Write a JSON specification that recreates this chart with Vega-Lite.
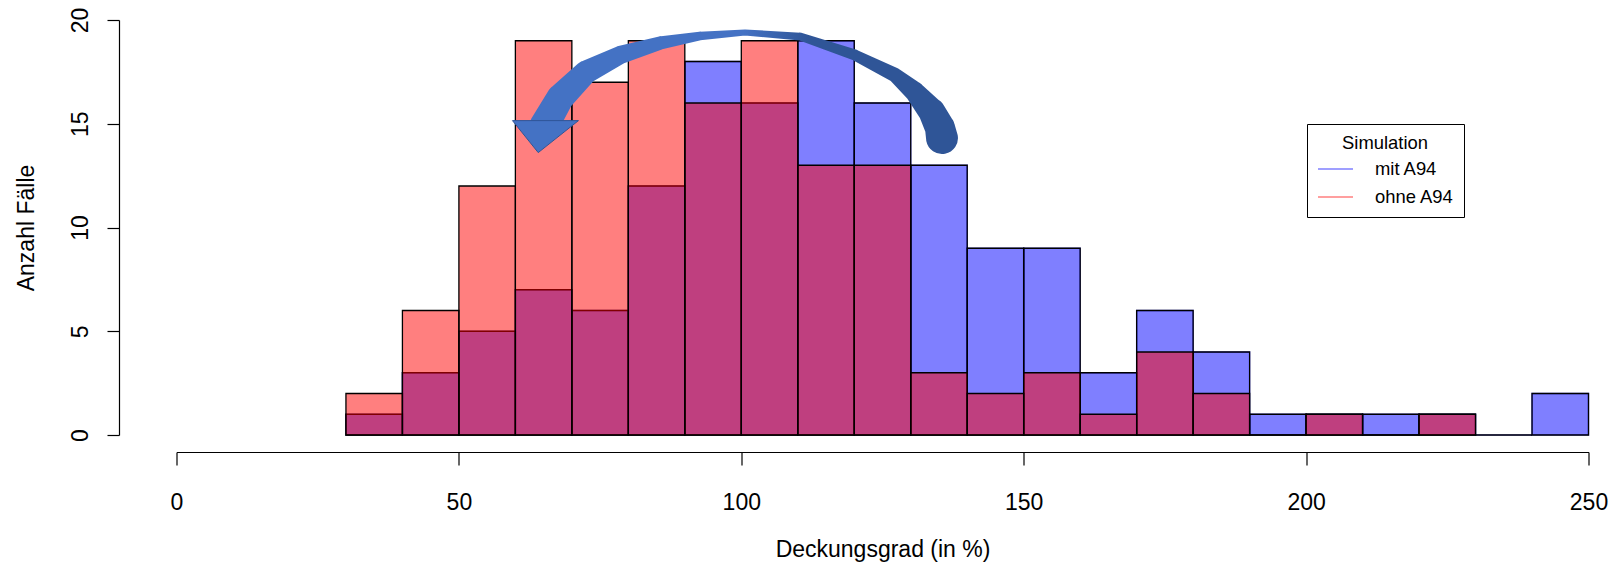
{
  "$schema": "https://vega.github.io/schema/vega-lite/v6.json",
  "autosize": {"type": "none"},
  "padding": {"left": 176.5, "top": 20, "right": 33.5, "bottom": 130},
  "width": 1412,
  "height": 415,
  "background": "white",
  "config": {
    "view": {"stroke": null},
    "font": "Liberation Sans",
    "axis": {"grid": false, "domainColor": "black", "tickColor": "black", "labelColor": "black", "titleColor": "black", "titleFontWeight": "normal", "domainWidth": 1.2, "tickWidth": 1.2}
  },
  "datasets": {
    "hist": [
      {"sim": "mit A94", "von": 30, "bis": 40, "anzahl": 1},
      {"sim": "mit A94", "von": 40, "bis": 50, "anzahl": 3},
      {"sim": "mit A94", "von": 50, "bis": 60, "anzahl": 5},
      {"sim": "mit A94", "von": 60, "bis": 70, "anzahl": 7},
      {"sim": "mit A94", "von": 70, "bis": 80, "anzahl": 6},
      {"sim": "mit A94", "von": 80, "bis": 90, "anzahl": 12},
      {"sim": "mit A94", "von": 90, "bis": 100, "anzahl": 18},
      {"sim": "mit A94", "von": 100, "bis": 110, "anzahl": 16},
      {"sim": "mit A94", "von": 110, "bis": 120, "anzahl": 19},
      {"sim": "mit A94", "von": 120, "bis": 130, "anzahl": 16},
      {"sim": "mit A94", "von": 130, "bis": 140, "anzahl": 13},
      {"sim": "mit A94", "von": 140, "bis": 150, "anzahl": 9},
      {"sim": "mit A94", "von": 150, "bis": 160, "anzahl": 9},
      {"sim": "mit A94", "von": 160, "bis": 170, "anzahl": 3},
      {"sim": "mit A94", "von": 170, "bis": 180, "anzahl": 6},
      {"sim": "mit A94", "von": 180, "bis": 190, "anzahl": 4},
      {"sim": "mit A94", "von": 190, "bis": 200, "anzahl": 1},
      {"sim": "mit A94", "von": 200, "bis": 210, "anzahl": 1},
      {"sim": "mit A94", "von": 210, "bis": 220, "anzahl": 1},
      {"sim": "mit A94", "von": 220, "bis": 230, "anzahl": 1},
      {"sim": "mit A94", "von": 230, "bis": 240, "anzahl": 0},
      {"sim": "mit A94", "von": 240, "bis": 250, "anzahl": 2},
      {"sim": "ohne A94", "von": 30, "bis": 40, "anzahl": 2},
      {"sim": "ohne A94", "von": 40, "bis": 50, "anzahl": 6},
      {"sim": "ohne A94", "von": 50, "bis": 60, "anzahl": 12},
      {"sim": "ohne A94", "von": 60, "bis": 70, "anzahl": 19},
      {"sim": "ohne A94", "von": 70, "bis": 80, "anzahl": 17},
      {"sim": "ohne A94", "von": 80, "bis": 90, "anzahl": 19},
      {"sim": "ohne A94", "von": 90, "bis": 100, "anzahl": 16},
      {"sim": "ohne A94", "von": 100, "bis": 110, "anzahl": 19},
      {"sim": "ohne A94", "von": 110, "bis": 120, "anzahl": 13},
      {"sim": "ohne A94", "von": 120, "bis": 130, "anzahl": 13},
      {"sim": "ohne A94", "von": 130, "bis": 140, "anzahl": 3},
      {"sim": "ohne A94", "von": 140, "bis": 150, "anzahl": 2},
      {"sim": "ohne A94", "von": 150, "bis": 160, "anzahl": 3},
      {"sim": "ohne A94", "von": 160, "bis": 170, "anzahl": 1},
      {"sim": "ohne A94", "von": 170, "bis": 180, "anzahl": 4},
      {"sim": "ohne A94", "von": 180, "bis": 190, "anzahl": 2},
      {"sim": "ohne A94", "von": 190, "bis": 200, "anzahl": 0},
      {"sim": "ohne A94", "von": 200, "bis": 210, "anzahl": 1},
      {"sim": "ohne A94", "von": 210, "bis": 220, "anzahl": 0},
      {"sim": "ohne A94", "von": 220, "bis": 230, "anzahl": 1}
    ],
    "bogen": [
      {"i": 1, "x": 65.10, "y": 14.90, "dicke": 1.42},
      {"i": 2, "x": 67.90, "y": 16.24, "dicke": 1.32},
      {"i": 3, "x": 72.51, "y": 17.49, "dicke": 1.12},
      {"i": 4, "x": 78.52, "y": 18.31, "dicke": 0.88},
      {"i": 5, "x": 85.60, "y": 18.89, "dicke": 0.64},
      {"i": 6, "x": 92.69, "y": 19.23, "dicke": 0.42},
      {"i": 7, "x": 100.66, "y": 19.40, "dicke": 0.29},
      {"i": 8, "x": 110.40, "y": 19.20, "dicke": 0.38},
      {"i": 9, "x": 120.13, "y": 18.31, "dicke": 0.53},
      {"i": 10, "x": 127.21, "y": 17.35, "dicke": 0.70},
      {"i": 11, "x": 130.75, "y": 16.53, "dicke": 0.98},
      {"i": 12, "x": 133.76, "y": 15.57, "dicke": 1.30},
      {"i": 13, "x": 135.18, "y": 14.80, "dicke": 1.45},
      {"i": 14, "x": 135.53, "y": 14.31, "dicke": 1.54}
    ],
    "spitze": [
      {"x": 65.33, "y": 14.38}
    ]
  },
  "layer": [
    {
      "data": {"name": "hist"},
      "transform": [{"filter": "datum.sim === 'mit A94'"}],
      "mark": {"type": "bar", "opacity": 1, "strokeWidth": 1.5},
      "encoding": {
        "x": {"field": "von", "type": "quantitative", "title": "Deckungsgrad (in %)",
              "scale": {"domain": [0, 250], "nice": false, "zero": false},
              "axis": {"values": [0, 50, 100, 150, 200, 250], "offset": 17, "tickSize": 13, "labelFontSize": 23, "labelPadding": 26, "labelBaseline": "top", "labelFlush": false, "labelOverlap": false, "titleFontSize": 23, "titleBaseline": "alphabetic", "titleY": 104}},
        "x2": {"field": "bis"},
        "y": {"field": "anzahl", "type": "quantitative", "title": "Anzahl Fälle", "stack": null,
              "scale": {"domain": [0, 20], "nice": false},
              "axis": {"values": [0, 5, 10, 15, 20], "offset": 57.5, "tickSize": 12, "labelFontSize": 23, "labelAngle": -90, "labelAlign": "center", "labelBaseline": "alphabetic", "labelPadding": 20, "labelFlush": false, "labelOverlap": false, "titleFontSize": 23, "titleAngle": -90, "titleAlign": "center", "titleBaseline": "alphabetic", "titleX": -86, "titleY": 207.5}},
        "y2": {"datum": 0},
        "color": {"field": "sim", "type": "nominal",
                  "scale": {"domain": ["mit A94", "ohne A94"], "range": ["rgba(0,0,255,0.5)", "rgba(255,0,0,0.5)"]},
                  "legend": {"title": "Simulation", "orient": "none", "legendX": 1130.5, "legendY": 104, "symbolType": "stroke", "symbolSize": 1225, "symbolStrokeWidth": 1.5, "strokeColor": "black", "fillColor": "white", "padding": 10, "titleAnchor": "middle", "titleFontSize": 18.4, "titleFontWeight": "normal", "titleColor": "black", "titlePadding": -2, "labelFontSize": 18.4, "labelColor": "black", "labelOffset": 21, "rowPadding": -14,
                             "encode": {"symbols": {"update": {"stroke": {"scale": "color", "field": "value"}, "strokeWidth": {"value": 1.5}}}}}},
        "stroke": {"field": "sim", "type": "nominal",
                  "scale": {"domain": ["mit A94", "ohne A94"], "range": ["rgba(0,0,255,0.5)", "rgba(255,0,0,0.5)"]}}
      }
    },
    {
      "data": {"name": "hist"},
      "transform": [{"filter": "datum.sim === 'mit A94'"}],
      "mark": {"type": "bar", "fill": "transparent", "stroke": "black", "strokeWidth": 1.3},
      "encoding": {
        "x": {"field": "von", "type": "quantitative", "title": "Deckungsgrad (in %)"},
        "x2": {"field": "bis"},
        "y": {"field": "anzahl", "type": "quantitative", "title": "Anzahl Fälle"},
        "y2": {"datum": 0}
      }
    },
    {
      "data": {"name": "hist"},
      "transform": [{"filter": "datum.sim === 'ohne A94'"}],
      "mark": {"type": "bar", "opacity": 1},
      "encoding": {
        "x": {"field": "von", "type": "quantitative", "title": "Deckungsgrad (in %)"},
        "x2": {"field": "bis"},
        "y": {"field": "anzahl", "type": "quantitative", "title": "Anzahl Fälle", "stack": null},
        "y2": {"datum": 0},
        "color": {"field": "sim", "type": "nominal"}
      }
    },
    {
      "data": {"name": "hist"},
      "transform": [{"filter": "datum.sim === 'ohne A94'"}],
      "mark": {"type": "bar", "fill": "transparent", "stroke": "black", "strokeWidth": 1.3},
      "encoding": {
        "x": {"field": "von", "type": "quantitative", "title": "Deckungsgrad (in %)"},
        "x2": {"field": "bis"},
        "y": {"field": "anzahl", "type": "quantitative", "title": "Anzahl Fälle"},
        "y2": {"datum": 0}
      }
    },
    {
      "data": {"name": "bogen"},
      "mark": {"type": "trail", "opacity": 1,
               "color": {"gradient": "linear", "x1": 0, "x2": 1, "y1": 0, "y2": 0,
                         "stops": [{"offset": 0, "color": "#4472C4"}, {"offset": 0.5, "color": "#4472C4"}, {"offset": 0.65, "color": "#2F5597"}, {"offset": 1, "color": "#2F5597"}]}},
      "encoding": {
        "x": {"field": "x", "type": "quantitative", "title": "Deckungsgrad (in %)"},
        "y": {"field": "y", "type": "quantitative", "title": "Anzahl Fälle"},
        "size": {"field": "dicke", "type": "quantitative", "scale": {"domain": [0, 4], "range": [0, 83]}, "legend": null},
        "order": {"field": "i", "type": "quantitative"}
      }
    },
    {
      "data": {"name": "spitze"},
      "mark": {"type": "point", "shape": "M -1 -0.485 L 1 -0.485 L -0.22 0.485 Z", "size": 4356, "filled": true, "color": "#4472C4", "opacity": 1, "stroke": "#2F5597", "strokeWidth": 1},
      "encoding": {
        "x": {"field": "x", "type": "quantitative", "title": "Deckungsgrad (in %)"},
        "y": {"field": "y", "type": "quantitative", "title": "Anzahl Fälle"}
      }
    }
  ]
}
